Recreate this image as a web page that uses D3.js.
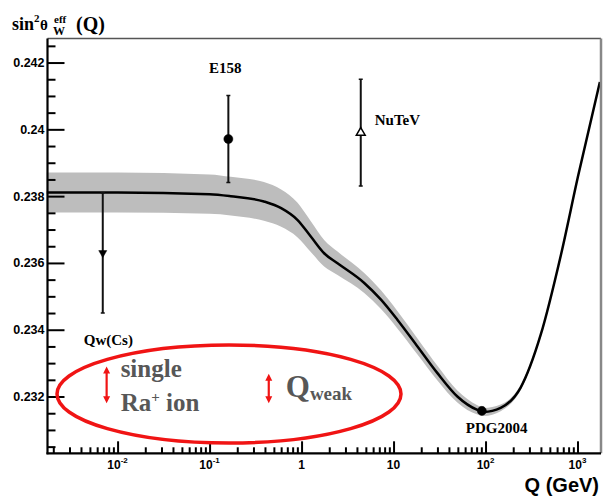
<!DOCTYPE html>
<html>
<head>
<meta charset="utf-8">
<script src="https://cdn.jsdelivr.net/npm/d3@7"></script>
<style>
  body { margin: 0; background: #fff; }
</style>
</head>
<body>
<div id="container"></div>
<script>
// running sin^2 theta_W curve
const curveQ = [0.0017, 0.01, 0.1, 0.17, 0.39, 0.6, 0.9, 1.26, 1.76, 2.46, 4.8, 7.3, 11, 18.2, 30, 49.4, 81.5, 96, 146, 240, 398, 660, 1010, 1750];
const curveS = [0.23811, 0.23811, 0.23806, 0.2380, 0.23784, 0.23764, 0.23729, 0.23679, 0.23629, 0.23599, 0.2354, 0.2349, 0.2343, 0.2335, 0.2327, 0.2320, 0.2316, 0.23154, 0.23166, 0.23226, 0.23385, 0.23624, 0.23858, 0.24142];
const curveErr = [0.0006, 0.0006, 0.00059, 0.00058, 0.00058, 0.00056, 0.00052, 0.00046, 0.0004, 0.00035, 0.0003, 0.00028, 0.00026, 0.00024, 0.00022, 0.00018, 0.00014, 0.00012, 0.0001, 0.00008, 0.00006, 0.00005, 0.00004, 0.00003];

// measurements
const pointNames = ['Qw(Cs)', 'E158', 'NuTeV', 'PDG2004'];
const pointQ = [0.0069, 0.16, 4.4, 91.19];
const pointS = [0.2363, 0.23971, 0.2399, 0.23157];
const pointErr = [0.0018, 0.0013, 0.0016, 0];
const pointMarker = ['triangleDown', 'circle', 'triangleUp', 'circle'];

// projected precision arrows
const projNames = ['single Ra+ ion', 'Qweak'];
const projQ = [0.0076, 0.44];
const projLow = [0.2318, 0.2318];
const projHigh = [0.2329, 0.23268];

// ticks
const yMajorTicks = [0.232, 0.234, 0.236, 0.238, 0.24, 0.242];
const yTickLabels = ['0.232', '0.234', '0.236', '0.238', '0.24', '0.242'];
const xMajorTicks = [0.01, 0.1, 1, 10, 100, 1000];
const xTickBase = ['10', '10', '1', '10', '10', '10'];
const xTickExp = ['-2', '-1', '', '', '2', '3'];

const width = 605;
const height = 496;
const pLeft = 47.5, pRight = 601, pTop = 38.5, pBottom = 453.3;

const svg = d3.select('#container')
    .append('svg')
    .attr('width', width)
    .attr('height', height)
    .style('background-color', '#fff');

const x = d3.scaleLog()
    .domain([0.00173, 1800])
    .range([pLeft, pRight]);

const y = d3.scaleLinear()
    .domain([0.2303, 0.24272])
    .range([pBottom, pTop]);

/* BAND + CURVE */
const curve = curveQ.map((q, i) => ({ q: q, s: curveS[i], e: curveErr[i] }));

svg.append('path')
    .datum(curve)
    .attr('fill', '#bdbdbd')
    .attr('d', d3.area()
        .x(d => x(d.q))
        .y0(d => y(d.s - d.e))
        .y1(d => y(d.s + d.e))
        .curve(d3.curveMonotoneX));

svg.append('path')
    .datum(curve)
    .attr('fill', 'none')
    .attr('stroke', '#000')
    .attr('stroke-width', 2.5)
    .attr('d', d3.line()
        .x(d => x(d.q))
        .y(d => y(d.s))
        .curve(d3.curveMonotoneX));

/* AXES */
const yMinor = d3.range(0.2305, 0.2427, 0.0005).filter(v => !yMajorTicks.some(t => Math.abs(t - v) < 1e-7));

svg.append('g')
    .attr('transform', `translate(${pLeft},0)`)
    .call(d3.axisLeft(y).tickValues(yMinor).tickSize(-8).tickFormat(''))
    .call(g => g.select('.domain').remove())
    .call(g => g.selectAll('line').attr('stroke', '#000').attr('stroke-width', 2));

svg.append('g')
    .attr('transform', `translate(${pLeft},0)`)
    .call(d3.axisLeft(y).tickValues(yMajorTicks).tickSize(-17).tickPadding(3)
        .tickFormat((d, i) => yTickLabels[i]))
    .call(g => g.select('.domain').remove())
    .call(g => g.selectAll('line').attr('stroke', '#000').attr('stroke-width', 2))
    .call(g => g.selectAll('text')
        .attr('fill', '#000')
        .style('font-family', 'Liberation Sans, Arial, sans-serif')
        .style('font-weight', 'bold')
        .style('font-size', '12.5px'));

const xMinor = [];
for (let e = -3; e <= 3; e++) {
    for (let m = 2; m <= 9; m++) {
        const v = m * Math.pow(10, e);
        if (v > x.domain()[0] && v < x.domain()[1]) xMinor.push(v);
    }
}

svg.append('g')
    .attr('transform', `translate(0,${pBottom})`)
    .call(d3.axisBottom(x).tickValues(xMinor).tickSize(-6).tickFormat(''))
    .call(g => g.select('.domain').remove())
    .call(g => g.selectAll('line').attr('stroke', '#000').attr('stroke-width', 2));

svg.append('g')
    .attr('transform', `translate(0,${pBottom})`)
    .call(d3.axisBottom(x).tickValues(xMajorTicks).tickSize(-12).tickFormat(''))
    .call(g => g.select('.domain').remove())
    .call(g => g.selectAll('line').attr('stroke', '#000').attr('stroke-width', 2));

const xLabels = svg.append('g')
    .selectAll('text')
    .data(xMajorTicks)
    .enter().append('text')
    .attr('x', d => x(d))
    .attr('y', 469)
    .attr('text-anchor', 'middle')
    .style('font-family', 'Liberation Sans, Arial, sans-serif')
    .style('font-weight', 'bold')
    .style('font-size', '12px');

xLabels.append('tspan')
    .text((d, i) => xTickBase[i]);
xLabels.append('tspan')
    .attr('dy', -6)
    .style('font-size', '8px')
    .text((d, i) => xTickExp[i]);

// frame
svg.append('line')
    .attr('x1', pLeft).attr('x2', pRight)
    .attr('y1', pTop).attr('y2', pTop)
    .attr('stroke', '#555')
    .attr('stroke-width', 1.6);
svg.append('line')
    .attr('x1', pRight).attr('x2', pRight)
    .attr('y1', pTop).attr('y2', pBottom)
    .attr('stroke', '#888')
    .attr('stroke-width', 2.5);
svg.append('line')
    .attr('x1', pLeft).attr('x2', pLeft)
    .attr('y1', pTop).attr('y2', pBottom + 1)
    .attr('stroke', '#000')
    .attr('stroke-width', 2.2);
svg.append('line')
    .attr('x1', pLeft - 1).attr('x2', pRight)
    .attr('y1', pBottom).attr('y2', pBottom)
    .attr('stroke', '#000')
    .attr('stroke-width', 2.2);

/* AXIS TITLES */
const serif = 'Liberation Serif, Times New Roman, serif';
const ytitle = svg.append('g')
    .style('font-family', serif)
    .style('font-weight', 'bold')
    .attr('fill', '#000');
ytitle.append('text').attr('x', 12).attr('y', 30).style('font-size', '18px').text('sin');
ytitle.append('text').attr('x', 34).attr('y', 22).style('font-size', '11px').text('2');
ytitle.append('text').attr('x', 40).attr('y', 30).style('font-size', '15px').text('\u03B8');
ytitle.append('text').attr('x', 54).attr('y', 23).style('font-size', '11px').text('eff');
ytitle.append('text').attr('x', 53).attr('y', 35).style('font-size', '12px').text('W');
ytitle.append('text').attr('x', 76).attr('y', 31).style('font-size', '20px').text('(Q)');

svg.append('text')
    .attr('x', 599)
    .attr('y', 492)
    .attr('text-anchor', 'end')
    .style('font-family', 'Liberation Sans, Arial, sans-serif')
    .style('font-weight', 'bold')
    .style('font-size', '20px')
    .text('Q (GeV)');

/* MEASUREMENTS */
const points = pointNames.map((n, i) => ({ name: n, q: pointQ[i], s: pointS[i], e: pointErr[i], m: pointMarker[i] }));

const pts = svg.append('g');

pts.selectAll('line.err')
    .data(points.filter(d => d.e > 0))
    .enter().append('line')
    .attr('class', 'err')
    .attr('x1', d => x(d.q)).attr('x2', d => x(d.q))
    .attr('y1', d => y(d.s - d.e)).attr('y2', d => y(d.s + d.e))
    .attr('stroke', '#111')
    .attr('stroke-width', 2);

pts.selectAll('path.cap')
    .data(points.filter(d => d.e > 0))
    .enter().append('path')
    .attr('class', 'cap')
    .attr('d', d => `M${x(d.q) - 2},${y(d.s - d.e)}h4M${x(d.q) - 2},${y(d.s + d.e)}h4`)
    .attr('stroke', '#111')
    .attr('stroke-width', 1.5);

const sym = {
    circle: d3.symbol().type(d3.symbolCircle).size(64),
    triangleUp: d3.symbol().type(d3.symbolTriangle).size(34),
    triangleDown: d3.symbol().type(d3.symbolTriangle).size(28)
};

pts.selectAll('path.mark')
    .data(points)
    .enter().append('path')
    .attr('class', 'mark')
    .attr('d', d => sym[d.m]())
    .attr('transform', d => `translate(${x(d.q)},${y(d.s)})` + (d.m === 'triangleDown' ? ' rotate(180)' : ''))
    .attr('fill', d => d.m === 'triangleUp' ? '#fff' : '#000')
    .attr('stroke', '#000')
    .attr('stroke-width', d => d.m === 'triangleUp' ? 1.5 : 0.5);

// point labels
const labelPos = {
    'Qw(Cs)': [-19, 345, 'start'],
    'E158': [-3, 73, 'middle'],
    'NuTeV': [14, 125, 'start'],
    'PDG2004': [-16, 433, 'start']
};
pts.selectAll('text')
    .data(points)
    .enter().append('text')
    .attr('x', d => x(d.q) + labelPos[d.name][0])
    .attr('y', d => labelPos[d.name][1])
    .attr('text-anchor', d => labelPos[d.name][2])
    .style('font-family', serif)
    .style('font-weight', 'bold')
    .style('font-size', '15px')
    .text(d => d.name);

/* PROJECTIONS */
svg.append('ellipse')
    .attr('cx', 229)
    .attr('cy', 394)
    .attr('rx', 172)
    .attr('ry', 49)
    .attr('fill', 'none')
    .attr('stroke', '#f01414')
    .attr('stroke-width', 3.5);

const projs = projNames.map((n, i) => ({ name: n, q: projQ[i], lo: projLow[i], hi: projHigh[i] }));

const arrows = svg.append('g')
    .selectAll('g')
    .data(projs)
    .enter().append('g');

arrows.append('line')
    .attr('x1', d => x(d.q)).attr('x2', d => x(d.q))
    .attr('y1', d => y(d.hi) + 5).attr('y2', d => y(d.lo) - 5)
    .attr('stroke', '#f01414')
    .attr('stroke-width', 2.2);
arrows.append('path')
    .attr('d', d => {
        const cx = x(d.q), t = y(d.hi), b = y(d.lo);
        return `M${cx},${t}l-3.5,7h7zM${cx},${b}l-3.5,-7h7z`;
    })
    .attr('fill', '#f01414');

const grey = '#575757';
svg.append('text')
    .attr('x', x(projQ[0]) + 14)
    .attr('y', 377)
    .attr('fill', grey)
    .style('font-family', serif)
    .style('font-weight', 'bold')
    .style('font-size', '25px')
    .text('single');
const ra = svg.append('text')
    .attr('x', x(projQ[0]) + 14)
    .attr('y', 411)
    .attr('fill', grey)
    .style('font-family', serif)
    .style('font-weight', 'bold')
    .style('font-size', '25px');
ra.append('tspan').text('Ra');
ra.append('tspan').attr('dy', -9).style('font-size', '15px').text('+');
ra.append('tspan').attr('dy', 9).text(' ion');

const qw = svg.append('text')
    .attr('x', x(projQ[1]) + 17)
    .attr('y', 397)
    .attr('fill', grey)
    .style('font-family', serif)
    .style('font-weight', 'bold')
    .style('font-size', '31px');
qw.append('tspan').text('Q');
qw.append('tspan').attr('dy', 3).style('font-size', '19px').text('weak');
</script>
</body>
</html>
